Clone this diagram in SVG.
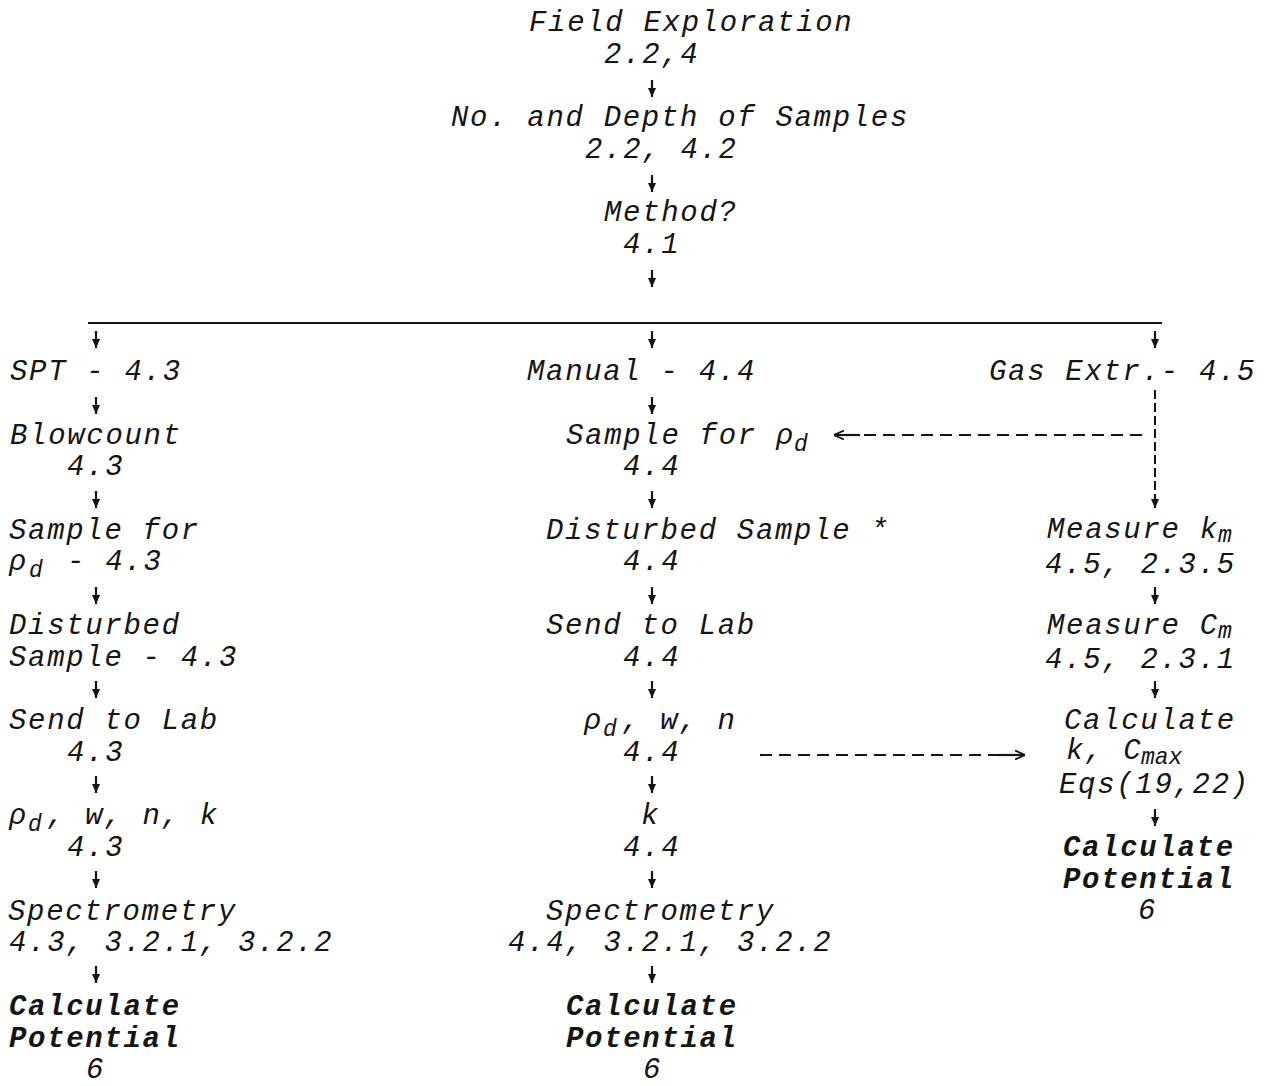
<svg xmlns="http://www.w3.org/2000/svg" width="1270" height="1086" viewBox="0 0 1270 1086">
<style>
.t{font-family:"Liberation Mono","DejaVu Sans Mono",monospace;font-style:italic;font-size:29px;letter-spacing:1.68px;fill:#151515;}
.b{font-weight:bold;}
.s{font-size:23px;letter-spacing:0;}
.c{stroke:#151515;stroke-width:2.2;fill:none;}
.d{stroke:#151515;stroke-width:2.2;fill:none;stroke-dasharray:12 7;}
.v{stroke:#151515;stroke-width:2;fill:none;stroke-dasharray:9 4;}
</style>
<defs>
<marker id="ah" viewBox="0 0 10 10" refX="10" refY="5" markerWidth="9" markerHeight="9" markerUnits="userSpaceOnUse" orient="auto">
<path d="M0,0.5 L10,5 L0,9.5 z" fill="#151515"/>
</marker>
<marker id="oh" viewBox="0 0 10 10" refX="10" refY="5" markerWidth="10" markerHeight="10" markerUnits="userSpaceOnUse" orient="auto">
<path d="M0,0.5 L10,5 L0,9.5" fill="none" stroke="#151515" stroke-width="1.8"/>
</marker>
</defs>
<rect width="1270" height="1086" fill="#ffffff"/>

<g id="connectors">
<line class="c" x1="652" y1="80" x2="652" y2="97" marker-end="url(#ah)"/>
<line class="c" x1="652" y1="175" x2="652" y2="192" marker-end="url(#ah)"/>
<line class="c" x1="652" y1="270" x2="652" y2="287" marker-end="url(#ah)"/>
<line class="c" x1="88" y1="323" x2="1162" y2="323"/>
<line class="c" x1="96" y1="331" x2="96" y2="348" marker-end="url(#ah)"/>
<line class="c" x1="652" y1="331" x2="652" y2="348" marker-end="url(#ah)"/>
<line class="c" x1="1155" y1="331" x2="1155" y2="348" marker-end="url(#ah)"/>
<line class="c" x1="96" y1="397" x2="96" y2="414" marker-end="url(#ah)"/>
<line class="c" x1="96" y1="491" x2="96" y2="508" marker-end="url(#ah)"/>
<line class="c" x1="96" y1="587" x2="96" y2="604" marker-end="url(#ah)"/>
<line class="c" x1="96" y1="681" x2="96" y2="698" marker-end="url(#ah)"/>
<line class="c" x1="96" y1="776" x2="96" y2="793" marker-end="url(#ah)"/>
<line class="c" x1="96" y1="871" x2="96" y2="888" marker-end="url(#ah)"/>
<line class="c" x1="96" y1="966" x2="96" y2="983" marker-end="url(#ah)"/>
<line class="c" x1="652" y1="397" x2="652" y2="414" marker-end="url(#ah)"/>
<line class="c" x1="652" y1="491" x2="652" y2="508" marker-end="url(#ah)"/>
<line class="c" x1="652" y1="587" x2="652" y2="604" marker-end="url(#ah)"/>
<line class="c" x1="652" y1="681" x2="652" y2="698" marker-end="url(#ah)"/>
<line class="c" x1="652" y1="776" x2="652" y2="793" marker-end="url(#ah)"/>
<line class="c" x1="652" y1="871" x2="652" y2="888" marker-end="url(#ah)"/>
<line class="c" x1="652" y1="966" x2="652" y2="983" marker-end="url(#ah)"/>
<line class="v" x1="1155" y1="390" x2="1155" y2="494"/>
<line class="c" x1="1155" y1="494" x2="1155" y2="508" marker-end="url(#ah)"/>
<line class="c" x1="1155" y1="587" x2="1155" y2="604" marker-end="url(#ah)"/>
<line class="c" x1="1155" y1="681" x2="1155" y2="698" marker-end="url(#ah)"/>
<line class="c" x1="1155" y1="809" x2="1155" y2="826" marker-end="url(#ah)"/>
<line class="d" x1="1142" y1="435" x2="860" y2="435"/>
<line class="c" x1="860" y1="435" x2="834" y2="435" marker-end="url(#oh)"/>
<line class="d" x1="760" y1="755" x2="1000" y2="755"/>
<line class="c" x1="998" y1="755" x2="1025" y2="755" marker-end="url(#oh)"/>
</g>

<g id="field-exploration">
<text class="t" x="529" y="31">Field Exploration</text>
<text class="t" x="604" y="63">2.2,4</text>
</g>
<g id="samples">
<text class="t" x="451" y="126">No. and Depth of Samples</text>
<text class="t" x="585" y="158">2.2, 4.2</text>
</g>
<g id="method">
<text class="t" x="604" y="221">Method?</text>
<text class="t" x="623" y="253">4.1</text>
</g>

<g id="spt">
<text class="t" x="10" y="380">SPT - 4.3</text>
</g>
<g id="blowcount">
<text class="t" x="10" y="444">Blowcount</text>
<text class="t" x="67" y="475">4.3</text>
</g>
<g id="spt-sample-rho">
<text class="t" x="9" y="539">Sample for</text>
<text class="t" x="9" y="570">ρ<tspan class="s" x="29" dy="7">d</tspan><tspan x="48" dy="-7"> - 4.3</tspan></text>
</g>
<g id="spt-disturbed">
<text class="t" x="9" y="634">Disturbed</text>
<text class="t" x="9" y="666">Sample - 4.3</text>
</g>
<g id="spt-lab">
<text class="t" x="9" y="729">Send to Lab</text>
<text class="t" x="67" y="761">4.3</text>
</g>
<g id="spt-props">
<text class="t" x="9" y="824">ρ<tspan class="s" x="28" dy="7">d</tspan><tspan x="47" dy="-7">, w, n, k</tspan></text>
<text class="t" x="67" y="856">4.3</text>
</g>
<g id="spt-spectrometry">
<text class="t" x="8" y="920">Spectrometry</text>
<text class="t" x="9" y="951">4.3, 3.2.1, 3.2.2</text>
</g>
<g id="spt-potential">
<text class="t b" x="9" y="1015">Calculate</text>
<text class="t b" x="9" y="1047">Potential</text>
<text class="t" x="86" y="1078">6</text>
</g>

<g id="manual">
<text class="t" x="527" y="380">Manual - 4.4</text>
</g>
<g id="manual-sample-rho">
<text class="t" x="566" y="444">Sample for ρ<tspan class="s" x="794" dy="7">d</tspan></text>
<text class="t" x="623" y="475">4.4</text>
</g>
<g id="manual-disturbed">
<text class="t" x="546" y="539">Disturbed Sample *</text>
<text class="t" x="623" y="570">4.4</text>
</g>
<g id="manual-lab">
<text class="t" x="546" y="634">Send to Lab</text>
<text class="t" x="623" y="666">4.4</text>
</g>
<g id="manual-props">
<text class="t" x="584" y="729">ρ<tspan class="s" x="603" dy="7">d</tspan><tspan x="622" dy="-7">, w, n</tspan></text>
<text class="t" x="623" y="761">4.4</text>
</g>
<g id="manual-k">
<text class="t" x="641" y="824">k</text>
<text class="t" x="623" y="856">4.4</text>
</g>
<g id="manual-spectrometry">
<text class="t" x="546" y="920">Spectrometry</text>
<text class="t" x="508" y="951">4.4, 3.2.1, 3.2.2</text>
</g>
<g id="manual-potential">
<text class="t b" x="566" y="1015">Calculate</text>
<text class="t b" x="566" y="1047">Potential</text>
<text class="t" x="643" y="1078">6</text>
</g>

<g id="gas">
<text class="t" x="989" y="380">Gas Extr.- 4.5</text>
</g>
<g id="measure-k">
<text class="t" x="1047" y="538">Measure k<tspan class="s" x="1218" dy="4">m</tspan></text>
<text class="t" x="1045" y="573">4.5, 2.3.5</text>
</g>
<g id="measure-c">
<text class="t" x="1047" y="634">Measure C<tspan class="s" x="1218" dy="4">m</tspan></text>
<text class="t" x="1045" y="668">4.5, 2.3.1</text>
</g>
<g id="calc-kc">
<text class="t" x="1064" y="729">Calculate</text>
<text class="t" x="1066" y="759">k, C<tspan class="s" x="1141" dy="5" letter-spacing="2.28">max</tspan></text>
<text class="t" x="1059" y="793">Eqs(19,22)</text>
</g>
<g id="gas-potential">
<text class="t b" x="1063" y="856">Calculate</text>
<text class="t b" x="1063" y="888">Potential</text>
<text class="t" x="1138" y="919">6</text>
</g>
</svg>
